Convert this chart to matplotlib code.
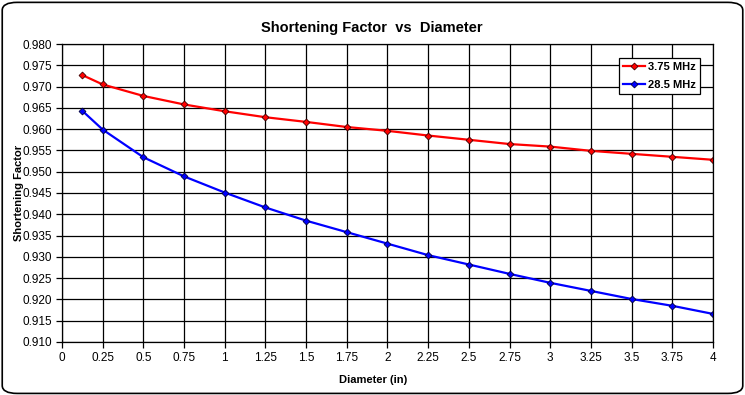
import numpy as np
import matplotlib.pyplot as plt
from matplotlib.patches import FancyBboxPatch

plt.rcParams['font.family'] = ['Liberation Sans', 'DejaVu Sans']
plt.rcParams['font.size'] = 8

# Datos
diameter = [0.125, 0.25, 0.5, 0.75, 1, 1.25, 1.5, 1.75, 2, 2.25, 2.5, 2.75, 3, 3.25, 3.5, 3.75, 4]
sf_375 = [0.9727, 0.9705, 0.9678, 0.9658, 0.9642, 0.9628, 0.9617, 0.9605, 0.9596,
          0.9585, 0.9575, 0.9565, 0.9559, 0.9549, 0.9542, 0.9535, 0.9528]
sf_285 = [0.9643, 0.9599, 0.9534, 0.9489, 0.9451, 0.9416, 0.9385, 0.9358, 0.9331,
          0.9304, 0.9282, 0.9260, 0.9239, 0.9220, 0.9201, 0.9185, 0.9166]
labels = ['3.75 MHz', '28.5 MHz']

x_ticks = np.arange(0, 4.01, 0.25)
x_ticklabels = ['0', '0.25', '0.5', '0.75', '1', '1.25', '1.5', '1.75', '2',
                '2.25', '2.5', '2.75', '3', '3.25', '3.5', '3.75', '4']
y_ticks = np.arange(0.910, 0.9801, 0.005)

fig = plt.figure(figsize=(7.45, 3.95), dpi=100)
ax = fig.add_axes([0.0832, 0.1342, 0.8738, 0.7544])

# Borde redondeado de la figura
border = FancyBboxPatch((0.003, 0.004), 0.994, 0.990, boxstyle='round,pad=0,rounding_size=0.02',
                        transform=fig.transFigure, fill=False, edgecolor='black', linewidth=1.2)
fig.patches.append(border)

ax.plot(diameter, sf_375, '-D', color='#ff0000', linewidth=1.6, markersize=3.5,
        markerfacecolor='#ff0000', markeredgecolor='#400000', markeredgewidth=0.6, label=labels[0])
ax.plot(diameter, sf_285, '-D', color='#0000ff', linewidth=1.6, markersize=3.5,
        markerfacecolor='#0000ff', markeredgecolor='#000040', markeredgewidth=0.6, label=labels[1])

ax.set_xlim(0, 4)
ax.set_ylim(0.910, 0.980)
ax.set_xticks(x_ticks)
ax.set_xticklabels(x_ticklabels)
ax.set_yticks(y_ticks)
ax.set_yticklabels([f'{v:.3f}' for v in y_ticks])
ax.grid(True, color='black', linewidth=0.9)
ax.set_axisbelow(True)
ax.tick_params(direction='out', length=4, width=0.9, pad=3, labelsize=8.5)
for s in ax.spines.values():
    s.set_linewidth(0.9)

ax.set_xlabel('Diameter (in)', fontsize=8, fontweight='bold')
ax.xaxis.set_label_coords((373 - 62) / 651, -0.111)
ax.set_ylabel('Shortening Factor', fontsize=8, fontweight='bold')
ax.yaxis.set_label_coords(-0.059, 0.5)
fig.text(0.4993, 0.929, 'Shortening Factor  vs  Diameter', ha='center', va='center',
         fontsize=10.5, fontweight='bold')

leg = ax.legend(loc='upper right', bbox_to_anchor=(0.980, 0.953), fancybox=False,
                framealpha=1, edgecolor='black', prop={'weight': 'bold', 'size': 8},
                handlelength=2.0, borderpad=0.35, labelspacing=0.75, handletextpad=0.3,
                borderaxespad=0)
leg.get_frame().set_linewidth(0.9)

plt.savefig('out.png', dpi=100)
